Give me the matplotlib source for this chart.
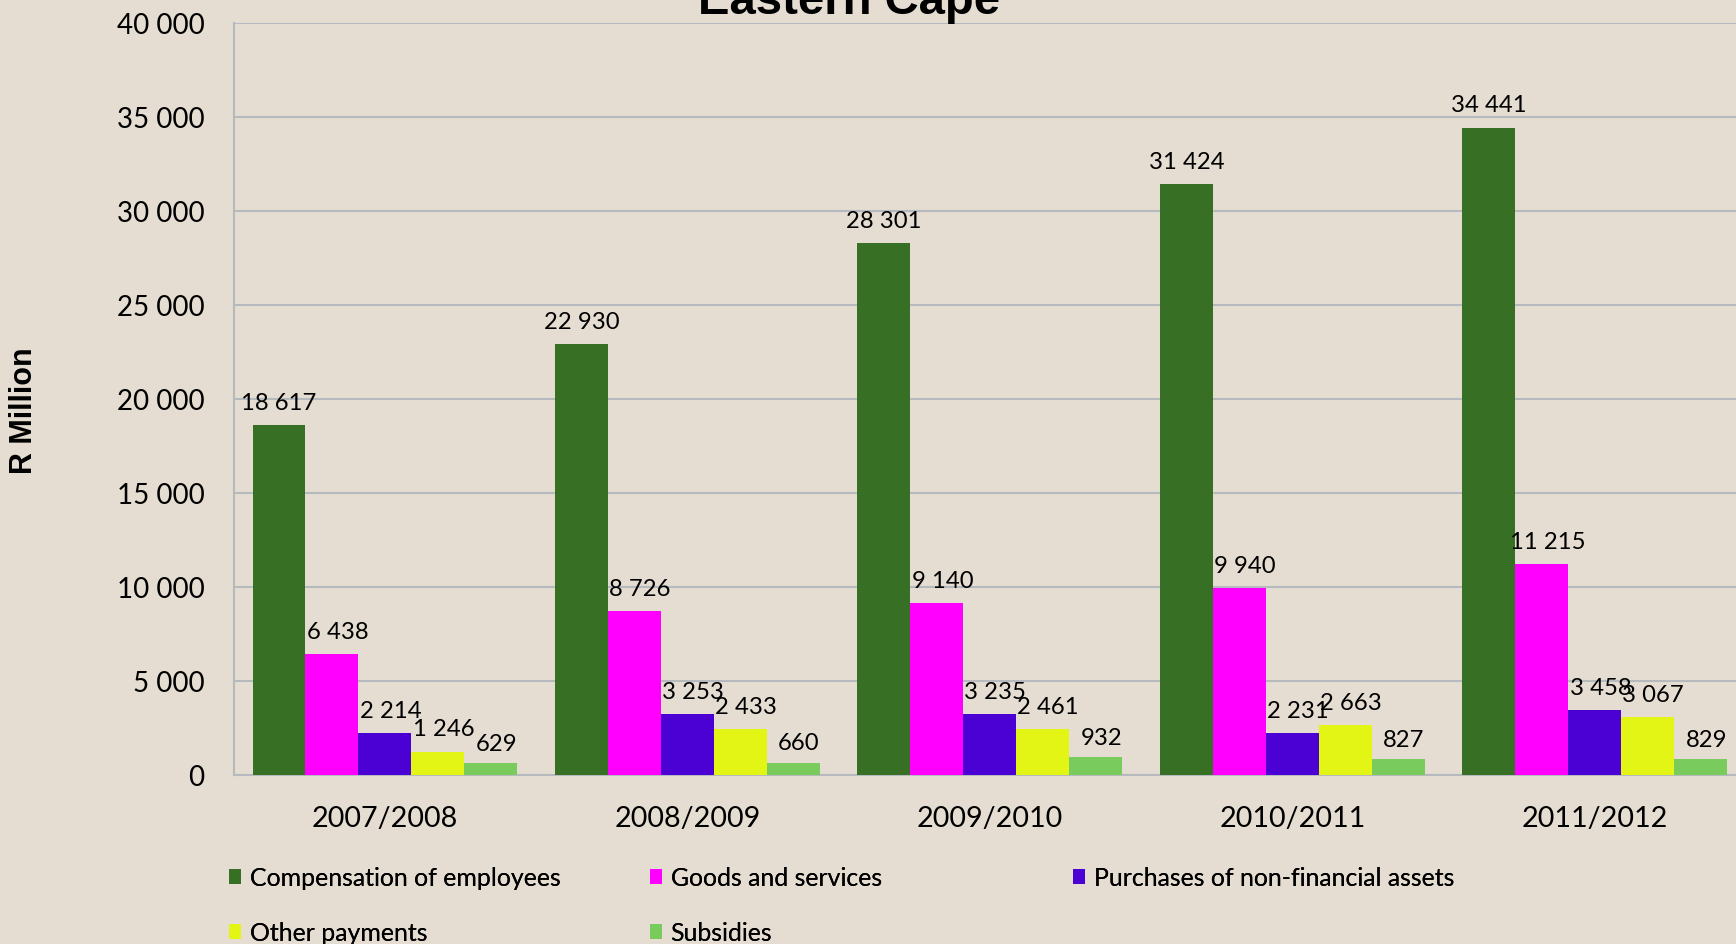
import numpy as np
import matplotlib
matplotlib.use('Agg')
import matplotlib.pyplot as plt
from matplotlib.ticker import FuncFormatter

# data (R million)
years = ['2007/2008', '2008/2009', '2009/2010', '2010/2011', '2011/2012']
series = ['Compensation of employees', 'Goods and services',
          'Purchases of non-financial assets', 'Other payments', 'Subsidies']
compensation = [18617, 22930, 28301, 31424, 34441]
goods = [6438, 8726, 9140, 9940, 11215]
purchases = [2214, 3253, 3235, 2231, 3458]
other = [1246, 2433, 2461, 2663, 3067]
subsidies = [629, 660, 932, 827, 829]
values = [compensation, goods, purchases, other, subsidies]

colours = ['#376F24', '#FF00FF', '#4B00D4', '#E2F514', '#7ACB5E']
bg = '#E5DDD1'
gridc = '#B6B9BD'

W, H = 1736, 944
fig = plt.figure(figsize=(W / 100, H / 100), dpi=100, facecolor=bg)
# plot area runs a bit past the right edge of the picture (it was cropped)
x0, x1, ytop, ybot = 233.6, 1746, 23, 775
ax = fig.add_axes([x0 / W, 1 - ybot / H, (x1 - x0) / W, (ybot - ytop) / H])
ax.set_facecolor(bg)

font = 'Lato'
bw = 0.175
x = np.arange(len(years))

def spaced(v, pos=None):
    return '{:,.0f}'.format(v).replace(',', ' ')

for i, (vals, col, name) in enumerate(zip(values, colours, series)):
    bars = ax.bar(x + (i - 2) * bw, vals, bw, color=col, label=name, zorder=3)
    pad = 6 if i == 4 else 8
    labs = ax.bar_label(bars, labels=[spaced(v) for v in vals], padding=pad,
                        fontsize=17.2, family=font, color='black')
    if i > 0:
        for a in labs:
            a.xyann = (4, pad)

ax.set_xlim(-0.5, 4.5)
ax.set_ylim(0, 40000)
ax.set_yticks(np.arange(0, 40001, 5000))
ax.yaxis.set_major_formatter(FuncFormatter(spaced))
ax.set_xticks(x)
ax.set_xticklabels(years)
ax.grid(axis='y', color=gridc, linewidth=1.5, zorder=0)
ax.tick_params(axis='y', length=0, pad=21, labelsize=20)
ax.tick_params(axis='x', length=0, pad=22, labelsize=20.7)
for lab in ax.get_xticklabels() + ax.get_yticklabels():
    lab.set_family(font)
for s in ['top', 'right']:
    ax.spines[s].set_visible(False)
for s in ['left', 'bottom']:
    ax.spines[s].set_color(gridc)
    ax.spines[s].set_linewidth(1.5)

fig.text(849 / W, 1 - 14.5 / H, 'Eastern Cape', ha='center', va='baseline',
         fontsize=34, fontweight='bold', family='Liberation Sans')
fig.text(24 / W, 1 - 411 / H, 'R Million', rotation=90, ha='center', va='center',
         fontsize=22, fontweight='bold', family='Liberation Sans')

# legend: three fixed-width columns like the Excel original
handles, labels = ax.get_legend_handles_labels()
cols = [[0, 3], [1, 4], [2]]
colx = [229, 650, 1073]
for idx, cx in zip(cols, colx):
    leg = fig.legend([handles[j] for j in idx], [labels[j] for j in idx],
                     loc='upper left', bbox_to_anchor=(cx / W, 1 - 866.5 / H),
                     frameon=False, borderpad=0, borderaxespad=0,
                     handlelength=0.5, handleheight=0.56, handletextpad=0.33,
                     labelspacing=1.29, prop={'family': font, 'size': 17.9})
    fig.add_artist(leg)

fig.savefig('out.png', dpi=100, facecolor=bg)
